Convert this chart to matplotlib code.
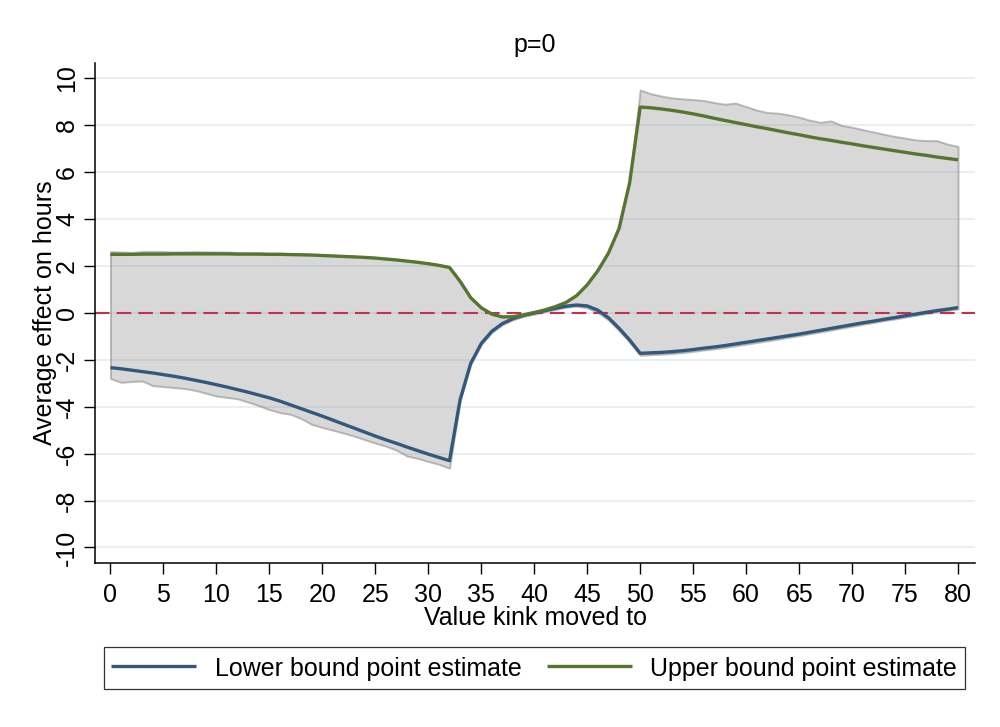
import matplotlib
matplotlib.use("Agg")
import matplotlib.pyplot as plt

plt.rcParams['font.family'] = ['Liberation Sans', 'DejaVu Sans']
plt.rcParams['axes.unicode_minus'] = False

# Values, one per integer kink value 0..80
kink = list(range(81))

lower_est = [
    -2.33, -2.38, -2.44, -2.50, -2.56, -2.63, -2.70, -2.78, -2.87, -2.96,
    -3.06, -3.16, -3.27, -3.38, -3.50, -3.62, -3.76, -3.92, -4.08, -4.24,
    -4.40, -4.57, -4.74, -4.91, -5.08, -5.25, -5.41, -5.56, -5.72, -5.87,
    -6.02, -6.16, -6.30, -3.70, -2.15, -1.30, -0.78, -0.45, -0.24, -0.10,
    0.00, 0.10, 0.20, 0.29, 0.34, 0.30, 0.12, -0.20, -0.65, -1.15,
    -1.72, -1.70, -1.68, -1.65, -1.61, -1.56, -1.50, -1.45, -1.39, -1.32,
    -1.25, -1.18, -1.11, -1.04, -0.97, -0.90, -0.82, -0.74, -0.66, -0.58,
    -0.50, -0.42, -0.35, -0.27, -0.20, -0.12, -0.05, 0.03, 0.10, 0.16,
    0.23,
]

upper_est = [
    2.50, 2.50, 2.50, 2.51, 2.51, 2.51, 2.52, 2.52, 2.52, 2.52,
    2.52, 2.52, 2.51, 2.51, 2.51, 2.50, 2.50, 2.49, 2.48, 2.47,
    2.45, 2.43, 2.41, 2.39, 2.37, 2.34, 2.30, 2.26, 2.21, 2.16,
    2.10, 2.03, 1.94, 1.35, 0.65, 0.22, -0.05, -0.17, -0.16, -0.08,
    0.02, 0.13, 0.27, 0.45, 0.74, 1.20, 1.80, 2.55, 3.60, 5.55,
    8.78, 8.75, 8.70, 8.64, 8.57, 8.49, 8.40, 8.30, 8.21, 8.12,
    8.03, 7.94, 7.86, 7.77, 7.68, 7.60, 7.51, 7.43, 7.36, 7.28,
    7.21, 7.13, 7.06, 6.99, 6.92, 6.85, 6.78, 6.72, 6.65, 6.59,
    6.53,
]

band_top = [
    2.62, 2.60, 2.58, 2.62, 2.63, 2.62, 2.60, 2.61, 2.62, 2.61,
    2.60, 2.60, 2.58, 2.57, 2.56, 2.55, 2.55, 2.53, 2.51, 2.50,
    2.48, 2.46, 2.44, 2.42, 2.40, 2.37, 2.33, 2.29, 2.24, 2.19,
    2.13, 2.06, 1.97, 1.38, 0.68, 0.25, -0.02, -0.14, -0.13, -0.05,
    0.05, 0.16, 0.30, 0.48, 0.77, 1.23, 1.83, 2.58, 3.63, 5.58,
    9.51, 9.35, 9.25, 9.17, 9.13, 9.10, 9.06, 8.97, 8.90, 8.95,
    8.80, 8.65, 8.55, 8.52, 8.45, 8.35, 8.22, 8.13, 8.19, 8.00,
    7.92, 7.82, 7.72, 7.62, 7.53, 7.46, 7.38, 7.35, 7.35, 7.20,
    7.10,
]

band_bottom = [
    -2.79, -2.96, -2.92, -2.90, -3.10, -3.14, -3.18, -3.22, -3.30, -3.42,
    -3.54, -3.60, -3.66, -3.80, -3.95, -4.12, -4.25, -4.32, -4.50, -4.75,
    -4.88, -5.00, -5.12, -5.25, -5.40, -5.55, -5.68, -5.85, -6.10, -6.20,
    -6.33, -6.45, -6.62, -3.75, -2.20, -1.35, -0.83, -0.50, -0.29, -0.15,
    -0.05, 0.05, 0.15, 0.24, 0.29, 0.22, 0.02, -0.30, -0.75, -1.25,
    -1.80, -1.78, -1.76, -1.73, -1.69, -1.64, -1.58, -1.53, -1.47, -1.40,
    -1.33, -1.26, -1.19, -1.12, -1.04, -0.97, -0.89, -0.81, -0.73, -0.65,
    -0.57, -0.49, -0.41, -0.33, -0.26, -0.18, -0.10, -0.03, 0.05, 0.11,
    0.17,
]

yticks = list(range(-10, 11, 2))
xticks = list(range(0, 81, 5))

fig = plt.figure(figsize=(10, 7.27), dpi=100)
ax = fig.add_axes([0.095, 0.225, 0.88, 0.689])

# light horizontal grid
for yv in yticks:
    ax.axhline(yv, color='#e6eef1', lw=1.3, zorder=0.5)

# confidence band
ax.fill_between(kink, band_bottom, band_top,
                facecolor=(0.5, 0.5, 0.5, 0.3),
                edgecolor=(0.5, 0.5, 0.5, 0.5), lw=1.4, zorder=1)

# zero reference line
ax.axhline(0, color='#c3304f', lw=1.5, dashes=(7, 3.4), zorder=2)

ax.plot(kink, lower_est, color='#33587b', lw=2.4, zorder=3,
        label='Lower bound point estimate', solid_capstyle='butt')
ax.plot(kink, upper_est, color='#557530', lw=2.4, zorder=3,
        label='Upper bound point estimate', solid_capstyle='butt')

ax.set_xlim(-1.46, 81.6)
ax.set_ylim(-10.68, 10.68)
ax.set_xticks(xticks)
ax.set_yticks(yticks)
for s in ['top', 'right']:
    ax.spines[s].set_visible(False)
for s in ['left', 'bottom']:
    ax.spines[s].set_linewidth(1.1)
ax.tick_params(axis='both', length=8, width=1.0, labelsize=18)
ax.tick_params(axis='x', pad=6)
ax.tick_params(axis='y', pad=3.5)
for lab in ax.get_yticklabels():
    lab.set_rotation(90)
    lab.set_va('center')

ax.set_xlabel('Value kink moved to', fontsize=18, va='center')
ax.xaxis.set_label_coords(0.5, -0.109)
ax.set_ylabel('Average effect on hours', fontsize=18, va='center')
ax.yaxis.set_label_coords(-0.057, 0.5)

fig.text(0.535, 0.938, 'p=0', ha='center', va='center', fontsize=18)

leg = fig.legend(loc='center', bbox_to_anchor=(0.534, 0.081), ncol=2,
                 fontsize=18, frameon=True, fancybox=False,
                 handlelength=3.4, handleheight=1.25, handletextpad=0.75,
                 columnspacing=1.0, borderpad=0.3)
leg.get_frame().set_edgecolor('black')
leg.get_frame().set_linewidth(0.9)

fig.savefig('out.png', dpi=100)
